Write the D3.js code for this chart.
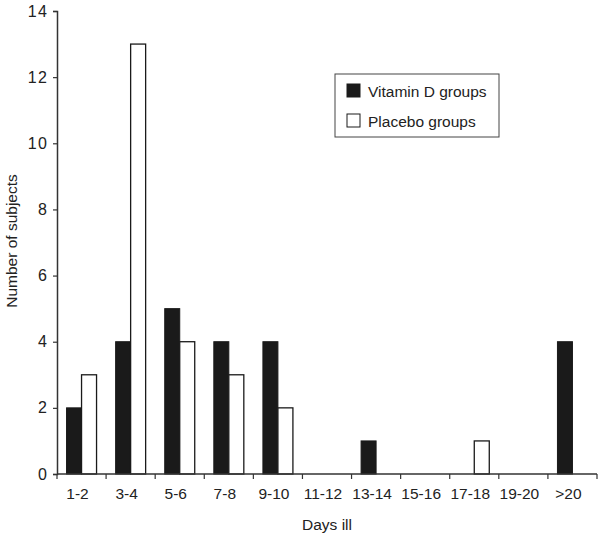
<!DOCTYPE html>
<html><head><meta charset="utf-8">
<script src="https://cdn.jsdelivr.net/npm/d3@7"></script>
<style>body{margin:0;background:#fff}svg{display:block}text{font-family:"Liberation Sans",Arial,sans-serif;fill:#222}</style>
</head><body>
<script>
const categories = ["1-2","3-4","5-6","7-8","9-10","11-12","13-14","15-16","17-18","19-20",">20"];
const vitaminD = [2,4,5,4,4,0,1,0,0,0,4];
const placebo = [3,13,4,3,2,0,0,0,1,0,0];
const seriesNames = ["Vitamin D groups","Placebo groups"];
const yTicks = [0,2,4,6,8,10,12,14];

const W=604,H=539;
const svg=d3.select("body").append("svg").attr("width",W).attr("height",H);
const x=d3.scaleBand().domain(categories).range([57,597]).paddingInner(0).paddingOuter(0);
const y=d3.scaleLinear().domain([0,14]).range([474,11]);
const bw=15;

const g=svg.append("g");
categories.forEach((c,i)=>{
  const cx=x(c)+x.bandwidth()/2;
  if(vitaminD[i]>0) g.append("rect").attr("x",cx-bw).attr("y",y(vitaminD[i])).attr("width",bw).attr("height",y(0)-y(vitaminD[i]))
    .attr("fill","#1a1a1a").attr("stroke","#1a1a1a").attr("stroke-width",1);
  if(placebo[i]>0) g.append("rect").attr("x",cx).attr("y",y(placebo[i])).attr("width",bw).attr("height",y(0)-y(placebo[i]))
    .attr("fill","#fff").attr("stroke","#1a1a1a").attr("stroke-width",1.3);
});

// y axis
const ya=svg.append("g").attr("transform","translate(57,0)").call(d3.axisLeft(y).tickValues(yTicks).tickSize(4).tickPadding(6));
ya.select(".domain").attr("stroke","#333").attr("stroke-width",1.5);
ya.selectAll(".tick line").attr("stroke","#333").attr("stroke-width",1.2);
ya.selectAll("text").attr("font-size",16).attr("letter-spacing","1.5px").attr("dx","1.5").attr("font-family","Liberation Sans, Arial, sans-serif").attr("fill","#222");

// x axis
const xa=svg.append("g").attr("transform","translate(0,474)").call(d3.axisBottom(x).tickSize(0).tickPadding(14));
xa.select(".domain").attr("stroke","#333").attr("stroke-width",1.5).attr("d","M57,0H597");
xa.selectAll("text").attr("font-size",15.5).attr("dx",-4).attr("font-family","Liberation Sans, Arial, sans-serif").attr("fill","#222");
const bounds=categories.map(c=>x(c)).concat([x(categories[categories.length-1])+x.bandwidth()]);
xa.selectAll(".bnd").data(bounds).enter().append("line").attr("x1",d=>d).attr("x2",d=>d).attr("y1",0).attr("y2",5).attr("stroke","#333").attr("stroke-width",1.2);

svg.append("text").attr("x",327).attr("y",530).attr("text-anchor","middle").attr("font-size",15.5).text("Days ill");
svg.append("text").attr("transform","translate(17,241) rotate(-90)").attr("text-anchor","middle").attr("font-size",15.5).text("Number of subjects");

// legend
const lg=svg.append("g");
lg.append("rect").attr("x",335).attr("y",74).attr("width",164).attr("height",63).attr("fill","#fff").attr("stroke","#444").attr("stroke-width",1);
const fills=["#1a1a1a","#fff"];
seriesNames.forEach((s,i)=>{
  lg.append("rect").attr("x",347).attr("y",84+i*30).attr("width",13).attr("height",13).attr("fill",fills[i]).attr("stroke","#1a1a1a").attr("stroke-width",1);
  lg.append("text").attr("x",368).attr("y",97+i*30).attr("font-size",15.5).text(s);
});
</script>
</body></html>
